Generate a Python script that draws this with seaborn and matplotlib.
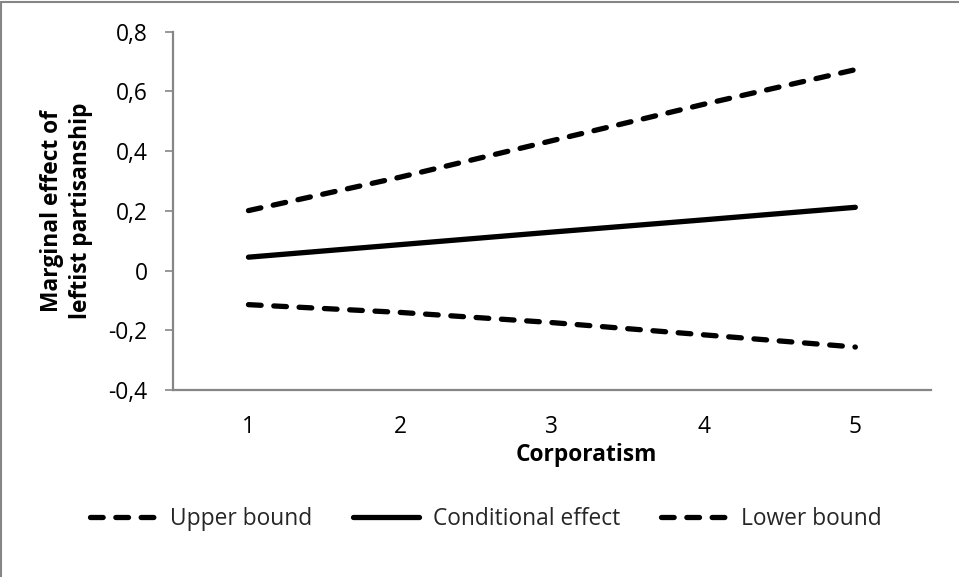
import pandas as pd
import seaborn as sns
import matplotlib.pyplot as plt
from matplotlib.lines import Line2D

# values
corporatism = [1, 2, 3, 4, 5]
upper_bound = [0.201, 0.313, 0.435, 0.557, 0.673]
conditional_effect = [0.045, 0.087, 0.129, 0.170, 0.212]
lower_bound = [-0.114, -0.140, -0.174, -0.215, -0.256]
series_names = ['Upper bound', 'Conditional effect', 'Lower bound']
y_ticks = [-0.4, -0.2, 0, 0.2, 0.4, 0.6, 0.8]
y_tick_labels = ['-0,4', '-0,2', '0', '0,2', '0,4', '0,6', '0,8']

sns.set_theme(style='white')
plt.rcParams['font.family'] = ['Open Sans', 'DejaVu Sans']
fs = 16.4
grey = '#868686'

fig = plt.figure(figsize=(9.59, 5.77), dpi=100)
ax = fig.add_axes([0.180, 0.324, 0.791, 0.621])

dash = (0, (2.4, 2.4))
styles = {'Upper bound': dash, 'Conditional effect': '-', 'Lower bound': dash}
values = {'Upper bound': upper_bound,
          'Conditional effect': conditional_effect,
          'Lower bound': lower_bound}

for name in series_names:
    df = pd.DataFrame({'Corporatism': corporatism, 'value': values[name]})
    sns.lineplot(data=df, x='Corporatism', y='value', ax=ax, color='black',
                 linewidth=3.8, linestyle=styles[name], label=name,
                 dash_capstyle='round', solid_capstyle='round')

if ax.get_legend() is not None:
    ax.get_legend().remove()

ax.set_xlim(0.5, 5.5)
ax.set_ylim(-0.4, 0.8)
ax.set_xticks(corporatism)
ax.set_xticklabels([str(c) for c in corporatism], fontsize=fs, color='black')
ax.set_yticks(y_ticks)
ax.set_yticklabels(y_tick_labels, fontsize=fs, color='black')
ax.tick_params(axis='x', length=0, pad=18)
ax.tick_params(axis='y', length=6, width=1.2, color=grey, direction='out',
               left=True, pad=12)

for s in ['top', 'right']:
    ax.spines[s].set_visible(False)
for s in ['left', 'bottom']:
    ax.spines[s].set_color(grey)
    ax.spines[s].set_linewidth(1.6)

ax.set_xlabel('Corporatism', fontsize=fs, fontweight='bold', color='black')
ax.xaxis.set_label_coords(0.545, -0.18)
ax.xaxis.label.set_va('center')
ax.set_ylabel('Marginal effect of\nleftist partisanship', fontsize=fs,
              fontweight='bold', color='black', linespacing=1.3)
ax.yaxis.set_label_coords(-0.14, 0.5)
ax.yaxis.label.set_va('center')

handles = [Line2D([], [], color='black', linewidth=3.8, linestyle=styles[n],
                  dash_capstyle='round', solid_capstyle='round')
           for n in series_names]
fig.legend(handles, series_names, loc='center', ncol=3, frameon=False,
           bbox_to_anchor=(486 / 959, 1 - 519 / 577), fontsize=fs,
           handlelength=2.9, handletextpad=0.6, columnspacing=1.8)

# outer chart border (top and left visible)
fig.add_artist(Line2D([0.001, 1], [0.996, 0.996], color=grey, linewidth=1.5,
                      transform=fig.transFigure))
fig.add_artist(Line2D([0.001, 0.001], [0, 0.996], color=grey, linewidth=1.5,
                      transform=fig.transFigure))

fig.savefig('out.png', dpi=100)
